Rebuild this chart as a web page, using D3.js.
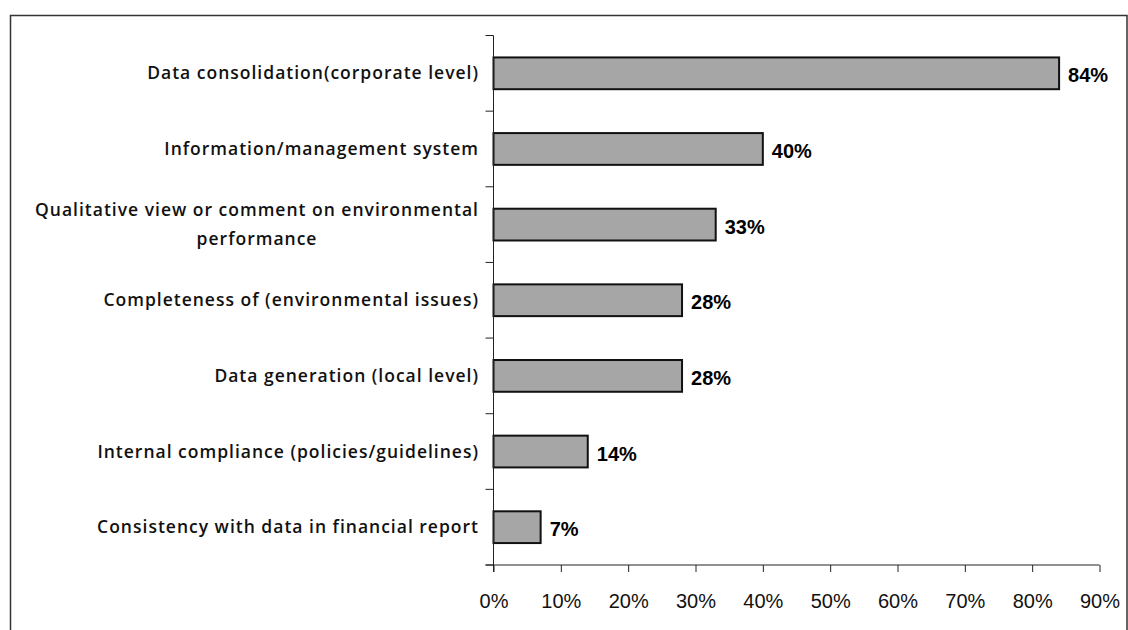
<!DOCTYPE html>
<html>
<head>
<meta charset="utf-8">
<script src="https://cdn.jsdelivr.net/npm/d3@7"></script>
<style>
  html, body { margin: 0; padding: 0; background: #fff; }
  svg { display: block; }
</style>
</head>
<body>
<svg id="chart" width="1128" height="630"></svg>
<script>
// Assurance scope categories (top to bottom) and share of reports covering each
const categories = [
  ["Data consolidation(corporate level)"],
  ["Information/management system"],
  ["Qualitative view or comment on environmental", "performance"],
  ["Completeness of (environmental issues)"],
  ["Data generation (local level)"],
  ["Internal compliance (policies/guidelines)"],
  ["Consistency with data in financial report"]
];
const values = [84, 40, 33, 28, 28, 14, 7];
const xTicks = [0, 10, 20, 30, 40, 50, 60, 70, 80, 90];

const svg = d3.select("#chart");
const W = 1128, H = 630;
const plot = { left: 493.5, right: 1099.5, top: 35.5, bottom: 565 };

// outer frame
svg.append("rect")
  .attr("x", 10.5).attr("y", 15.5)
  .attr("width", 1127 - 10.5).attr("height", H + 10)
  .attr("fill", "none").attr("stroke", "#333").attr("stroke-width", 1.5);

const x = d3.scaleLinear().domain([0, 90]).range([plot.left, plot.right]);
const y = d3.scaleBand().domain(d3.range(categories.length))
  .range([plot.top, plot.bottom]).paddingInner(0.58).paddingOuter(0.29);

const g = svg.append("g");

// bars
g.selectAll("rect.bar").data(values).join("rect")
  .attr("class", "bar")
  .attr("x", x(0))
  .attr("y", (d, i) => y(i))
  .attr("width", d => x(d) - x(0))
  .attr("height", y.bandwidth())
  .attr("fill", "#a6a6a6")
  .attr("stroke", "#111")
  .attr("stroke-width", 2);

// value labels
g.selectAll("text.val").data(values).join("text")
  .attr("class", "val")
  .attr("x", d => x(d) + 9)
  .attr("y", (d, i) => y(i) + y.bandwidth() / 2 + 2)
  .attr("dy", "0.35em")
  .attr("font-family", "Liberation Sans, Arial, sans-serif")
  .attr("font-weight", "bold")
  .attr("font-size", 20)
  .attr("fill", "#000")
  .text(d => d + "%");

// x axis
const xAxis = d3.axisBottom(x).tickValues(xTicks).tickFormat(d => d + "%")
  .tickSizeInner(7).tickSizeOuter(0).tickPadding(22);
const xg = svg.append("g").attr("transform", `translate(0,${plot.bottom})`).call(xAxis);
xg.select(".domain").attr("d", `M${plot.left - 8},0H${plot.right}`).attr("stroke", "#222");
xg.selectAll(".tick line").attr("stroke", "#222");
xg.selectAll(".tick text")
  .attr("font-family", "Liberation Sans, Arial, sans-serif")
  .attr("font-size", 20).attr("fill", "#111");

// y axis line with ticks between categories
const step = (plot.bottom - plot.top) / categories.length;
const yg = svg.append("g");
yg.append("line")
  .attr("x1", plot.left).attr("x2", plot.left)
  .attr("y1", plot.top).attr("y2", plot.bottom + 7)
  .attr("stroke", "#222");
yg.selectAll("line.tk").data(d3.range(categories.length + 1)).join("line")
  .attr("class", "tk")
  .attr("x1", plot.left - 8).attr("x2", plot.left)
  .attr("y1", i => plot.top + i * step).attr("y2", i => plot.top + i * step)
  .attr("stroke", "#222");

// category labels: block right-aligned, lines centred within block
const labelRight = 479;
const lineH = 29;
categories.forEach((lines, i) => {
  const cy = plot.top + (i + 0.5) * step;
  const t = svg.append("text")
    .attr("font-family", "'Open Sans', 'Noto Sans', sans-serif")
    .attr("font-weight", 600)
    .attr("font-size", 17.5)
    .attr("letter-spacing", 1)
    .attr("fill", "#111");
  const spans = lines.map((s, k) => t.append("tspan")
    .attr("y", cy + (k - (lines.length - 1) / 2) * lineH)
    .attr("dy", "0.35em")
    .text(s));
  const maxW = d3.max(spans, sp => sp.node().getComputedTextLength());
  spans.forEach(sp => sp.attr("x", labelRight - maxW / 2).attr("text-anchor", "middle"));
});
</script>
</body>
</html>
